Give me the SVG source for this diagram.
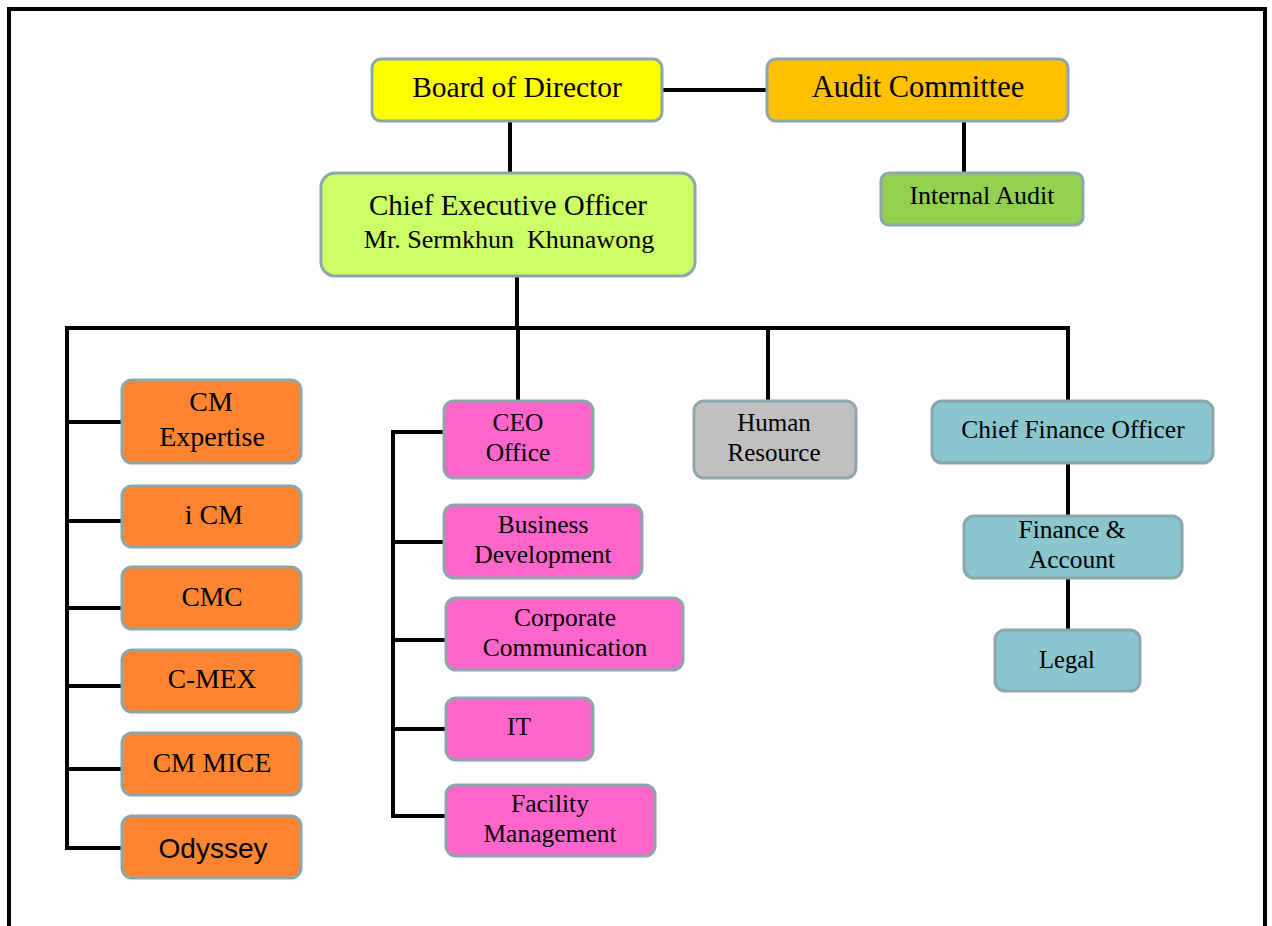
<svg xmlns="http://www.w3.org/2000/svg" width="1272" height="926" viewBox="0 0 1272 926">
<style>
.n{stroke:#8DA6AB;stroke-width:3}
.t{font-family:"Liberation Serif","DejaVu Serif",serif;fill:#000;text-anchor:middle}
.s{font-family:"Liberation Sans",Arial,sans-serif;fill:#000;text-anchor:middle}
.c{stroke:#000;stroke-width:4;fill:none}
</style>
<rect width="1272" height="926" fill="#fff"/>
<path d="M9 926 V9 H1265 V926" fill="none" stroke="#000" stroke-width="4"/>
<g id="connectors" class="c">
<path d="M662 90 H766"/>
<path d="M510 121 V173"/>
<path d="M964 117 V172"/>
<path d="M517 276 V328"/>
<path d="M65 328 H1070"/>
<path d="M67 328 V850"/>
<path d="M67 422 H122 M67 521 H122 M67 608 H122 M67 686 H122 M67 769 H122 M67 848 H122"/>
<path d="M518 328 V401"/>
<path d="M393 430 V818"/>
<path d="M391 432 H444 M393 542 H444 M393 640 H446 M393 729 H446 M391 816 H446"/>
<path d="M768 328 V401"/>
<path d="M1068 328 V401"/>
<path d="M1068 463 V516"/>
<path d="M1068 578 V630"/>
</g>
<g id="board"><rect class="n" x="372" y="59" width="290" height="62" rx="9" fill="#FFFF00"/><text class="t" x="517" y="97" font-size="29.5">Board of Director</text></g>
<g id="audit"><rect class="n" x="767" y="59" width="301" height="62" rx="9" fill="#FFC000"/><text class="t" x="918" y="97" font-size="30.5">Audit Committee</text></g>
<g id="internal"><rect class="n" x="881" y="173" width="202" height="52" rx="8" fill="#92D050"/><text class="t" x="982" y="204" font-size="26">Internal Audit</text></g>
<g id="ceo"><rect class="n" x="321" y="173" width="374" height="103" rx="14" fill="#CCFF66"/><text class="t" x="508" y="215" font-size="29">Chief Executive Officer</text><text class="t" x="509" y="248" font-size="26" xml:space="preserve">Mr. Sermkhun  Khunawong</text></g>
<g id="cmexpertise"><rect class="n" x="122" y="380" width="179" height="83" rx="10" fill="#FD8530"/><text class="t" x="211" y="411" font-size="28">CM</text><text class="t" x="212" y="446" font-size="28">Expertise</text></g>
<g id="icm"><rect class="n" x="122" y="486" width="179" height="61" rx="10" fill="#FD8530"/><text class="t" x="214" y="524" font-size="28">i CM</text></g>
<g id="cmc"><rect class="n" x="122" y="567" width="179" height="62" rx="10" fill="#FD8530"/><text class="t" x="212" y="606" font-size="27.5">CMC</text></g>
<g id="cmex"><rect class="n" x="122" y="650" width="179" height="62" rx="10" fill="#FD8530"/><text class="t" x="212" y="688" font-size="27.5">C-MEX</text></g>
<g id="cmmice"><rect class="n" x="122" y="733" width="179" height="62" rx="10" fill="#FD8530"/><text class="t" x="212" y="772" font-size="27.5">CM MICE</text></g>
<g id="odyssey"><rect class="n" x="122" y="816" width="179" height="62" rx="10" fill="#FD8530"/><text class="s" x="213" y="858" font-size="28">Odyssey</text></g>
<g id="ceooffice"><rect class="n" x="444" y="401" width="149" height="77" rx="10" fill="#FF66CC"/><text class="t" x="518" y="431" font-size="25.5">CEO</text><text class="t" x="518" y="461" font-size="25.5">Office</text></g>
<g id="bizdev"><rect class="n" x="444" y="505" width="198" height="73" rx="10" fill="#FF66CC"/><text class="t" x="543" y="533" font-size="25.5">Business</text><text class="t" x="543" y="563" font-size="25.5">Development</text></g>
<g id="corpcomm"><rect class="n" x="446" y="598" width="237" height="72" rx="10" fill="#FF66CC"/><text class="t" x="565" y="626" font-size="25.5">Corporate</text><text class="t" x="565" y="656" font-size="25.5">Communication</text></g>
<g id="it"><rect class="n" x="446" y="698" width="147" height="62" rx="10" fill="#FF66CC"/><text class="t" x="519" y="735" font-size="25.5">IT</text></g>
<g id="facility"><rect class="n" x="446" y="785" width="209" height="71" rx="10" fill="#FF66CC"/><text class="t" x="550" y="812" font-size="25.5">Facility</text><text class="t" x="550" y="842" font-size="25.5">Management</text></g>
<g id="hr"><rect class="n" x="694" y="401" width="162" height="77" rx="10" fill="#C0C0C0"/><text class="t" x="774" y="431" font-size="25">Human</text><text class="t" x="774" y="461" font-size="25">Resource</text></g>
<g id="cfo"><rect class="n" x="932" y="401" width="281" height="62" rx="10" fill="#89C6CE"/><text class="t" x="1073" y="438" font-size="25.5">Chief Finance Officer</text></g>
<g id="finance"><rect class="n" x="964" y="516" width="218" height="62" rx="10" fill="#89C6CE"/><text class="t" x="1072" y="538" font-size="25.5">Finance &amp;</text><text class="t" x="1072" y="568" font-size="25.5">Account</text></g>
<g id="legal"><rect class="n" x="995" y="630" width="145" height="61" rx="10" fill="#89C6CE"/><text class="t" x="1067" y="668" font-size="24.5">Legal</text></g>
</svg>
